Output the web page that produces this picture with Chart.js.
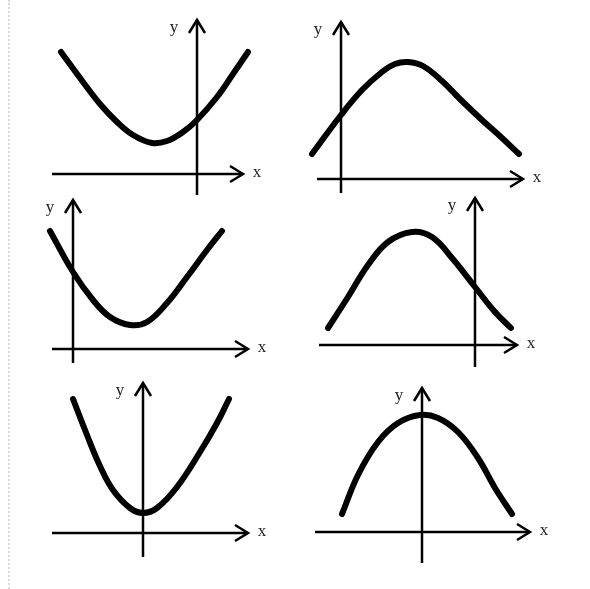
<!DOCTYPE html>
<html>
<head>
<meta charset="utf-8">
<script src="https://cdn.jsdelivr.net/npm/chart.js@4"></script>
<style>
  html, body { margin: 0; padding: 0; background: #fff; }
  #wrap { position: relative; width: 590px; height: 589px; overflow: hidden; }
  #edge { position: absolute; left: 8px; top: 0; height: 589px; border-left: 2px dotted #d9d9d9; }
  #c { position: absolute; left: 0; top: 0; }
</style>
</head>
<body>
<div id="wrap">
  <div id="edge"></div>
  <canvas id="c" width="590" height="589"></canvas>
</div>
<script>
// Curve points per panel (units of the panel's own x/y axes, y up)
const p1X = [-13.6, -11.4, -9.7, -8.0, -6.4, -4.5, -3.0, -1.4, 0, 2.0, 3.6, 5.1];
const p1Y = [12.2, 9.2, 7.0, 5.2, 3.9, 3.1, 3.3, 4.2, 5.4, 7.7, 10.0, 12.2];

const p2X = [-2.9, 0, 2.1, 4.1, 5.4, 6.7, 8.2, 10.1, 12.1, 14.1, 16.1, 17.8];
const p2Y = [2.5, 6.4, 8.9, 10.7, 11.5, 11.7, 11.3, 9.8, 7.8, 5.9, 4.1, 2.5];

const p3X = [-2.3, 0, 2.0, 3.7, 5.7, 7.4, 9.4, 11.4, 13.4, 14.9];
const p3Y = [11.8, 7.7, 4.9, 3.2, 2.4, 2.7, 4.6, 7.2, 9.9, 11.8];

const p4X = [-14.7, -12.7, -10.7, -8.7, -6.3, -4.3, -2.3, 0, 2.0, 3.6];
const p4Y = [1.7, 4.8, 8.0, 10.3, 11.3, 10.8, 8.7, 5.8, 3.3, 1.7];

const p5X = [-7.0, -5.6, -4.3, -3.0, -1.3, 0, 1.4, 3.4, 5.7, 7.4, 8.6];
const p5Y = [13.4, 9.8, 6.7, 4.3, 2.5, 2.0, 2.5, 4.6, 8.1, 11.0, 13.4];

const p6X = [-8.0, -6.4, -4.4, -2.4, -0.2, 1.6, 3.6, 5.6, 7.3, 9.0];
const p6Y = [1.8, 5.7, 9.0, 10.9, 11.7, 11.4, 10.0, 7.4, 4.4, 1.8];

// axis extents [start, arrow tip]
const xAxes = [[-14.5, 4.6], [-2.4, 18.2], [-2.1, 17.5], [-15.6, 4.2], [-9.1, 10.5], [-10.7, 10.8]];
const yAxes = [[-2.1, 15.4], [-1.4, 15.7], [-1.4, 14.9], [-2.2, 14.7], [-2.4, 15.0], [-3.1, 14.4]];
const axisLabels = ['x', 'y'];

// layout: where each panel's origin sits on the page, px per unit
const origins = [[197, 174], [341, 179], [73, 349], [475, 345], [143, 533], [422, 532]];
const unit = 10;
const W = 590, H = 589;

const curves = [[p1X, p1Y], [p2X, p2Y], [p3X, p3Y], [p4X, p4Y], [p5X, p5Y], [p6X, p6Y]];

const datasets = [];
const scales = {};
curves.forEach(([xs, ys], i) => {
  const [ox, oy] = origins[i];
  scales['x' + i] = { type: 'linear', display: false, min: -ox / unit, max: (W - ox) / unit };
  scales['y' + i] = { type: 'linear', display: false, min: -(H - oy) / unit, max: oy / unit };
  datasets.push({
    data: xs.map((x, k) => ({ x: x, y: ys[k] })),
    xAxisID: 'x' + i, yAxisID: 'y' + i,
    borderColor: '#000', borderWidth: 6, borderCapStyle: 'round', borderJoinStyle: 'round',
    tension: 0.4, pointRadius: 0, showLine: true
  });
  datasets.push({
    data: xAxes[i].map(x => ({ x: x, y: 0 })),
    xAxisID: 'x' + i, yAxisID: 'y' + i,
    borderColor: '#000', borderWidth: 2.5, pointRadius: 0, showLine: true
  });
  datasets.push({
    data: yAxes[i].map(y => ({ x: 0, y: y })),
    xAxisID: 'x' + i, yAxisID: 'y' + i,
    borderColor: '#000', borderWidth: 2.5, pointRadius: 0, showLine: true
  });
});

// open arrow heads and the x / y letters
const arrowPlugin = {
  id: 'arrows',
  afterDatasetsDraw(chart) {
    const ctx = chart.ctx;
    ctx.save();
    ctx.strokeStyle = '#000';
    ctx.lineWidth = 2.5;
    ctx.lineJoin = 'miter';
    ctx.fillStyle = '#222';
    ctx.font = '17px "Liberation Serif", "DejaVu Serif", serif';
    ctx.textAlign = 'center';
    ctx.textBaseline = 'middle';
    for (let i = 0; i < curves.length; i++) {
      const sx = chart.scales['x' + i], sy = chart.scales['y' + i];
      const x0 = sx.getPixelForValue(0), y0 = sy.getPixelForValue(0);
      const xt = sx.getPixelForValue(xAxes[i][1]);
      const yt = sy.getPixelForValue(yAxes[i][1]);
      ctx.beginPath();
      ctx.moveTo(xt - 13, y0 - 8); ctx.lineTo(xt, y0); ctx.lineTo(xt - 13, y0 + 8);
      ctx.stroke();
      ctx.beginPath();
      ctx.moveTo(x0 - 8, yt + 13); ctx.lineTo(x0, yt); ctx.lineTo(x0 + 8, yt + 13);
      ctx.stroke();
      ctx.fillText(axisLabels[0], xt + 14, y0 - 1);
      ctx.fillText(axisLabels[1], x0 - 23, yt + 8);
    }
    ctx.restore();
  }
};

new Chart(document.getElementById('c'), {
  type: 'scatter',
  data: { datasets: datasets },
  options: {
    responsive: false,
    animation: false,
    layout: { padding: 0 },
    scales: scales,
    plugins: { legend: { display: false }, tooltip: { enabled: false } }
  },
  plugins: [arrowPlugin]
});
</script>
</body>
</html>
